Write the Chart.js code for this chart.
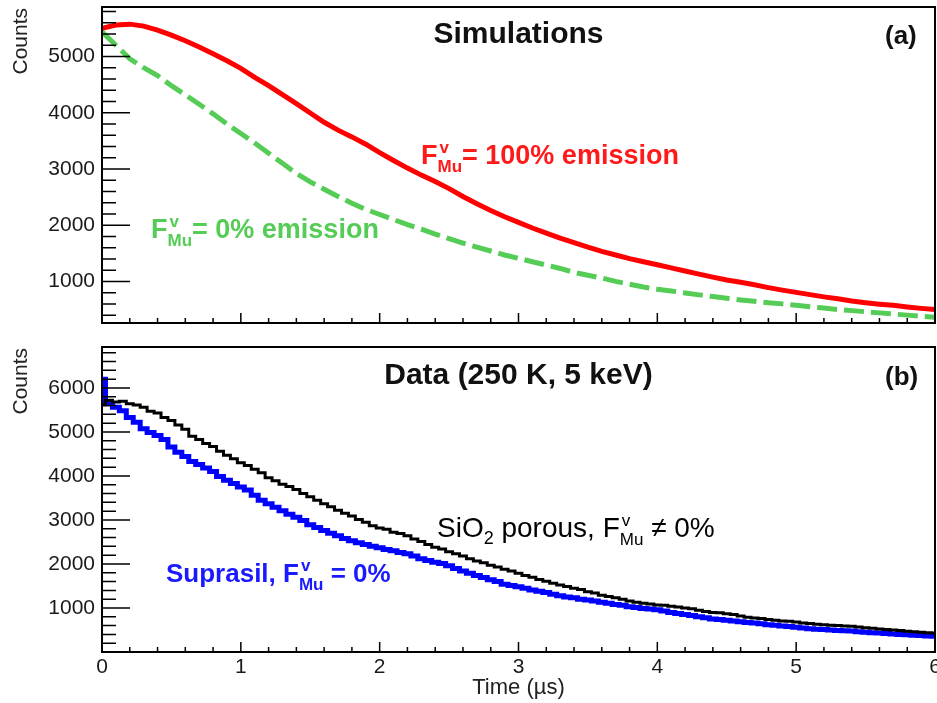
<!DOCTYPE html>
<html>
<head>
<meta charset="utf-8">
<script src="https://cdn.jsdelivr.net/npm/chart.js@4.4.0/dist/chart.umd.min.js"></script>
<style>
  body { margin: 0; background: #fff; }
  .panel { position: absolute; left: 0; }
</style>
</head>
<body>
<div class="panel" style="top:0"><canvas id="simChart" width="937" height="340"></canvas></div>
<div class="panel" style="top:340px"><canvas id="dataChart" width="937" height="363"></canvas></div>
<script>
// time bins (µs)
var tSim = [0,0.1,0.2,0.3,0.4,0.5,0.6,0.7,0.8,0.9,1,1.1,1.2,1.3,1.4,1.5,1.6,1.7,1.8,1.9,2,
  2.1,2.2,2.3,2.4,2.5,2.6,2.7,2.8,2.9,3,3.1,3.2,3.3,3.4,3.5,3.6,3.7,3.8,3.9,4,
  4.1,4.2,4.3,4.4,4.5,4.6,4.7,4.8,4.9,5,5.1,5.2,5.3,5.4,5.5,5.6,5.7,5.8,5.9,6];

var tData = [0,0.05,0.1,0.15,0.2,0.25,0.3,0.35,0.4,0.45,0.5,0.55,0.6,0.65,0.7,0.75,0.8,0.85,0.9,0.95,
  1,1.05,1.1,1.15,1.2,1.25,1.3,1.35,1.4,1.45,1.5,1.55,1.6,1.65,1.7,1.75,1.8,1.85,1.9,1.95,
  2,2.05,2.1,2.15,2.2,2.25,2.3,2.35,2.4,2.45,2.5,2.55,2.6,2.65,2.7,2.75,2.8,2.85,2.9,2.95,
  3,3.05,3.1,3.15,3.2,3.25,3.3,3.35,3.4,3.45,3.5,3.55,3.6,3.65,3.7,3.75,3.8,3.85,3.9,3.95,
  4,4.05,4.1,4.15,4.2,4.25,4.3,4.35,4.4,4.45,4.5,4.55,4.6,4.65,4.7,4.75,4.8,4.85,4.9,4.95,
  5,5.05,5.1,5.15,5.2,5.25,5.3,5.35,5.4,5.45,5.5,5.55,5.6,5.65,5.7,5.75,5.8,5.85,5.9,5.95,6];

// (a) simulations
var sim100 = [5500,5560,5575,5540,5470,5380,5280,5170,5050,4925,4790,4630,4480,4320,4160,3995,3830,3690,3570,3440,
  3290,3150,3015,2890,2775,2650,2510,2380,2260,2150,2050,1950,1860,1770,1690,1610,1535,1470,1405,1350,
  1295,1240,1185,1130,1075,1025,985,940,890,845,805,765,725,690,650,620,595,575,545,520,500];
var sim0 = [5440,5200,4960,4800,4660,4480,4320,4150,3980,3800,3630,3460,3280,3100,2920,2770,2640,2510,2390,2280,
  2190,2100,2010,1930,1840,1760,1680,1610,1540,1470,1410,1350,1290,1230,1160,1110,1060,1000,950,900,
  860,830,795,760,730,700,670,645,620,600,575,550,525,500,480,460,440,420,400,380,360];

// (b) data
var sio2 = [5620,5720,5680,5700,5640,5610,5560,5470,5430,5330,5260,5160,5060,4900,4830,4740,4670,4560,4470,4390,
  4300,4240,4150,4070,3960,3890,3810,3760,3690,3600,3530,3450,3370,3300,3220,3150,3090,3010,2950,2870,
  2820,2790,2720,2690,2640,2570,2510,2440,2380,2340,2280,2230,2180,2120,2070,2030,1970,1930,1880,1840,
  1790,1740,1700,1650,1610,1560,1520,1490,1450,1420,1370,1340,1290,1260,1230,1200,1160,1130,1110,1090,
  1070,1060,1040,1020,1000,980,950,920,900,890,870,850,820,790,775,760,740,720,705,700,
  680,660,645,630,620,610,600,590,585,570,550,540,520,510,500,490,470,460,450,440,430];
var suprasil = [6200,5640,5560,5480,5330,5220,5070,4990,4920,4830,4660,4540,4440,4330,4260,4180,4100,3990,3900,3830,
  3750,3680,3560,3450,3370,3290,3210,3130,3060,2990,2890,2830,2760,2700,2640,2580,2530,2480,2440,2400,
  2370,2330,2300,2260,2230,2180,2120,2080,2040,2010,1960,1900,1840,1790,1740,1690,1640,1600,1540,1510,
  1480,1450,1410,1380,1350,1310,1280,1250,1230,1200,1180,1160,1130,1110,1080,1060,1030,1010,990,975,
  960,930,900,875,850,830,800,780,750,740,720,705,690,670,660,640,620,605,590,580,
  560,545,530,515,510,500,490,480,475,460,450,440,430,420,410,400,390,380,375,365,360];

var xTicks = [0, 1, 2, 3, 4, 5, 6];
var yTicksSim = [1000, 2000, 3000, 4000, 5000];
var yTicksData = [1000, 2000, 3000, 4000, 5000, 6000];

var FONT = '"Liberation Sans", Arial, sans-serif';

function pairs(xs, ys) {
    return ys.map(function(v, i) { return {x: xs[i], y: v}; });
}

function plain(v) { return String(v); }

// no label overhang padding, so the frame sits where ROOT puts it
function noPad(s) {
    s.paddingTop = 0; s.paddingBottom = 0; s.paddingLeft = 0; s.paddingRight = 0;
}

// text with F^v_Mu style super/subscripts
function drawRich(ctx, x, y, parts, weight, color) {
    ctx.fillStyle = color;
    ctx.textAlign = 'left';
    ctx.textBaseline = 'alphabetic';
    parts.forEach(function(p) {
        ctx.font = weight + ' ' + p.size + 'px ' + FONT;
        if (p.sup !== undefined) {
            var w1 = ctx.measureText(p.sup).width;
            var w2 = ctx.measureText(p.sub).width;
            ctx.fillText(p.sup, x + 2, y - p.up);
            ctx.fillText(p.sub, x, y + p.down);
            x += Math.max(w1, w2);
        } else {
            ctx.fillText(p.text, x, y + (p.dy || 0));
            x += ctx.measureText(p.text).width;
        }
    });
}

// ROOT-like frame, inner ticks and annotations
var rootFrame = {
    id: 'rootFrame',
    afterDatasetsDraw: function(chart, args, opts) {
        var ctx = chart.ctx, a = chart.chartArea;
        var x = chart.scales.x, y = chart.scales.y;
        ctx.save();
        ctx.strokeStyle = '#000';
        ctx.lineWidth = 1.5;
        ctx.beginPath();
        for (var v = 0; v <= y.max; v += 200) {
            if (v < y.min) continue;
            var py = y.getPixelForValue(v);
            var len = v % 1000 === 0 ? 28 : 14;
            ctx.moveTo(a.left, py);
            ctx.lineTo(a.left + len, py);
        }
        for (var i = 0; i <= 30; i++) {
            var px = x.getPixelForValue(i * 0.2);
            var l = i % 5 === 0 ? 10 : 5;
            ctx.moveTo(px, a.bottom);
            ctx.lineTo(px, a.bottom - l);
        }
        ctx.stroke();
        ctx.lineWidth = 2;
        ctx.strokeRect(a.left, a.top, a.right - a.left, a.bottom - a.top);

        // y axis title
        ctx.save();
        ctx.translate(21, a.top + 1);
        ctx.rotate(-Math.PI / 2);
        ctx.font = '21px ' + FONT;
        ctx.fillStyle = '#222';
        ctx.textAlign = 'right';
        ctx.textBaseline = 'middle';
        ctx.fillText('Counts', 0, 0);
        ctx.restore();

        // panel title and tag
        ctx.font = 'bold 30px ' + FONT;
        ctx.fillStyle = '#111';
        ctx.textBaseline = 'alphabetic';
        ctx.textAlign = 'center';
        ctx.fillText(opts.title, (a.left + a.right) / 2, opts.titleY);
        ctx.font = 'bold 26px ' + FONT;
        ctx.textAlign = 'left';
        ctx.fillText(opts.tag, 885, opts.titleY + 1);

        (opts.labels || []).forEach(function(lb) {
            drawRich(ctx, lb.x, lb.y, lb.parts, lb.weight, lb.color);
        });
        ctx.restore();
    }
};

function fMu(size) {
    return {sup: 'v', sub: 'Mu', size: size, up: 11, down: 8};
}

var simChart = new Chart(document.getElementById('simChart'), {
    type: 'line',
    data: {
        datasets: [{
            label: 'F = 100% emission',
            data: pairs(tSim, sim100),
            borderColor: '#ff0000',
            borderWidth: 5,
            pointRadius: 0
        }, {
            label: 'F = 0% emission',
            data: pairs(tSim, sim0),
            borderColor: '#55cc55',
            borderWidth: 5,
            borderDash: [20, 7],
            pointRadius: 0
        }]
    },
    options: {
        responsive: false,
        animation: false,
        devicePixelRatio: 1,
        layout: { padding: { left: 0, right: 2, top: 7, bottom: 0 } },
        plugins: {
            legend: { display: false },
            tooltip: { enabled: false },
            rootFrame: {
                title: 'Simulations', tag: '(a)', titleY: 43,
                labels: [
                    { x: 421, y: 164, weight: 'bold', color: '#ff1a1a',
                      parts: [{text: 'F', size: 27}, fMu(17), {text: '= 100% emission', size: 27}] },
                    { x: 151, y: 238, weight: 'bold', color: '#55cc55',
                      parts: [{text: 'F', size: 27}, fMu(17), {text: '= 0% emission', size: 27}] }
                ]
            }
        },
        scales: {
            x: {
                type: 'linear', min: 0, max: 6,
                grid: { display: false, drawTicks: false },
                border: { display: false },
                ticks: { display: false },
                afterFit: function(s) { s.height = 17; noPad(s); }
            },
            y: {
                min: 260, max: 5880,
                grid: { display: false, drawTicks: false },
                border: { display: false },
                afterBuildTicks: function(s) { s.ticks = yTicksSim.map(function(v) { return {value: v}; }); },
                ticks: { padding: 7, color: '#1a1a1a', font: { family: FONT, size: 21 }, callback: plain },
                afterFit: function(s) { s.width = 102; noPad(s); }
            }
        }
    },
    plugins: [rootFrame]
});

var dataChart = new Chart(document.getElementById('dataChart'), {
    type: 'line',
    data: {
        datasets: [{
            label: 'SiO2 porous',
            data: pairs(tData, sio2),
            borderColor: '#000000',
            borderWidth: 3,
            stepped: 'middle',
            pointRadius: 0
        }, {
            label: 'Suprasil',
            data: pairs(tData, suprasil),
            borderColor: '#0000ff',
            borderWidth: 5,
            stepped: 'middle',
            pointRadius: 0
        }]
    },
    options: {
        responsive: false,
        animation: false,
        devicePixelRatio: 1,
        layout: { padding: { left: 0, right: 2, top: 7, bottom: 0 } },
        plugins: {
            legend: { display: false },
            tooltip: { enabled: false },
            rootFrame: {
                title: 'Data (250 K, 5 keV)', tag: '(b)', titleY: 44,
                labels: [
                    { x: 437, y: 197, weight: 'normal', color: '#000',
                      parts: [{text: 'SiO', size: 28}, {text: '2', size: 18, dy: 7}, {text: ' porous, F', size: 28},
                              fMu(17), {text: ' \u2260 0%', size: 28}] },
                    { x: 166, y: 242, weight: 'bold', color: '#1a1aff',
                      parts: [{text: 'Suprasil, F', size: 26}, fMu(17), {text: ' = 0%', size: 26}] }
                ]
            }
        },
        scales: {
            x: {
                type: 'linear', min: 0, max: 6,
                grid: { display: false, drawTicks: false },
                border: { display: false },
                afterBuildTicks: function(s) { s.ticks = xTicks.map(function(v) { return {value: v}; }); },
                ticks: { padding: 3, autoSkip: false, maxRotation: 0, color: '#1a1a1a', font: { family: FONT, size: 21 }, callback: plain },
                title: { display: true, text: 'Time (\u00b5s)', color: '#222', font: { family: FONT, size: 22 }, padding: { top: 0, bottom: 2 } },
                afterFit: function(s) { s.height = 51; noPad(s); }
            },
            y: {
                min: 0, max: 6930,
                grid: { display: false, drawTicks: false },
                border: { display: false },
                afterBuildTicks: function(s) { s.ticks = yTicksData.map(function(v) { return {value: v}; }); },
                ticks: { padding: 7, color: '#1a1a1a', font: { family: FONT, size: 21 }, callback: plain },
                afterFit: function(s) { s.width = 102; noPad(s); }
            }
        }
    },
    plugins: [rootFrame]
});
</script>
</body>
</html>
